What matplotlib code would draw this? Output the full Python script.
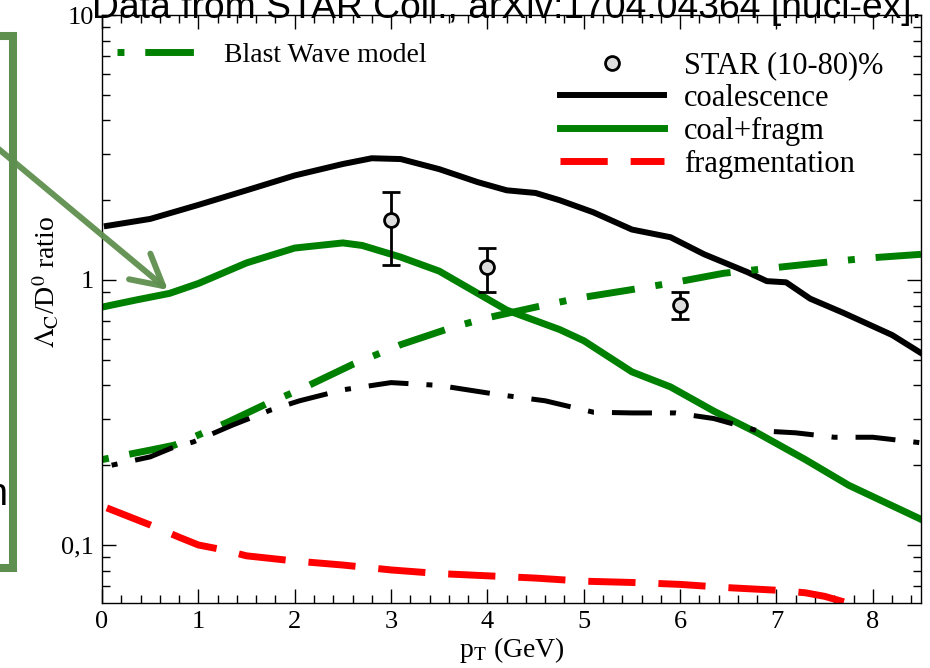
import matplotlib
matplotlib.use("Agg")
import matplotlib.pyplot as plt
from matplotlib.lines import Line2D
from matplotlib.patches import Rectangle, FancyArrowPatch
from matplotlib.ticker import MultipleLocator, LogLocator, NullFormatter

plt.rcParams['font.family'] = ['Liberation Serif', 'DejaVu Serif']
plt.rcParams['mathtext.fontset'] = 'stix'

# coalescence only
pt_coal = [0.05, 0.5, 1.0, 1.5, 2.0, 2.5, 2.8, 3.1, 3.5, 3.9, 4.2, 4.5, 4.75,
           5.1, 5.5, 5.9, 6.25, 6.7, 6.9, 7.1, 7.35, 7.7, 8.2, 8.5]
coal = [1.60, 1.70, 1.92, 2.18, 2.48, 2.74, 2.88, 2.86, 2.62, 2.34, 2.18, 2.13, 2.0,
        1.80, 1.55, 1.45, 1.25, 1.07, 0.99, 0.98, 0.85, 0.75, 0.62, 0.53]

# coalescence + fragmentation
pt_cf = [0.0, 0.35, 0.7, 1.0, 1.5, 2.0, 2.5, 2.7, 3.1, 3.5, 3.9, 4.2, 4.75, 5.0,
         5.5, 5.9, 6.35, 6.8, 7.3, 7.75, 8.5]
coal_frag = [0.79, 0.84, 0.89, 0.97, 1.16, 1.32, 1.38, 1.35, 1.22, 1.08, 0.89, 0.77,
             0.65, 0.59, 0.45, 0.395, 0.32, 0.265, 0.21, 0.168, 0.125]

# fragmentation only
pt_frag = [0.05, 0.5, 0.8, 1.0, 1.25, 1.5, 2.0, 2.5, 3.0, 3.5, 4.0, 4.5, 5.0, 5.5,
           6.0, 6.5, 7.0, 7.3, 7.5, 7.7]
frag = [0.138, 0.119, 0.107, 0.100, 0.096, 0.091, 0.087, 0.084, 0.0805, 0.078,
        0.0765, 0.075, 0.073, 0.0722, 0.071, 0.069, 0.0675, 0.066, 0.064, 0.061]

# blast wave model
pt_bw = [0.0, 0.5, 0.75, 1.0, 1.3, 1.7, 2.05, 2.6, 3.1, 3.65, 4.0, 4.5, 4.95, 5.5,
         5.95, 6.45, 6.95, 7.45, 7.95, 8.5]
blast = [0.21, 0.228, 0.238, 0.26, 0.29, 0.34, 0.385, 0.48, 0.57, 0.665, 0.72, 0.79,
         0.855, 0.92, 0.98, 1.06, 1.11, 1.16, 1.21, 1.25]

# black dash-dot curve
pt_cbw = [0.1, 0.5, 0.72, 0.95, 1.35, 1.75, 2.05, 2.5, 3.0, 3.5, 4.1, 4.6, 5.1, 5.5,
          5.95, 6.35, 6.8, 7.2, 7.6, 8.0, 8.5]
coal_bw = [0.20, 0.215, 0.232, 0.245, 0.283, 0.323, 0.35, 0.385, 0.41, 0.40, 0.37,
           0.35, 0.317, 0.315, 0.315, 0.30, 0.27, 0.265, 0.255, 0.255, 0.243]

# STAR (10-80)% data
star_pt = [3, 4, 6]
star_val = [1.68, 1.12, 0.805]
star_lo = [1.14, 0.90, 0.71]
star_hi = [2.15, 1.32, 0.90]

W, H = 930, 668
fig = plt.figure(figsize=(W / 100, H / 100), dpi=100)
ax = fig.add_axes([102 / W, 1 - 603 / H, 819 / W, 588 / H])

green = '#008000'
ax.plot(pt_coal, coal, color='black', lw=4.3)
ax.plot(pt_cf, coal_frag, color=green, lw=5)
ax.plot(pt_frag, frag, color='red', lw=5, linestyle=(0, (6.8, 3.3)))
ax.plot(pt_bw, blast, color=green, lw=5, linestyle=(10, (7, 3, 1, 3)))
ax.plot(pt_cbw, coal_bw, color='black', lw=3.6, linestyle=(11.6, (8, 3.6, 1.2, 3.6)))

err = [[v - lo for v, lo in zip(star_val, star_lo)],
       [hi - v for v, hi in zip(star_val, star_hi)]]
ax.errorbar(star_pt, star_val, yerr=err, fmt='o', ms=10, mfc='#dddddd', mec='black',
            mew=2, ecolor='black', elinewidth=2, capsize=6.5, capthick=2, zorder=5)

ax.set_yscale('log')
ax.set_xlim(0, 8.5)
ax.set_ylim(0.0604, 10)
ax.set_yticks([0.1, 1, 10])
ax.set_yticklabels(['0,1', '1', '10'])
ax.yaxis.set_minor_locator(LogLocator(base=10, subs=range(2, 10)))
ax.yaxis.set_minor_formatter(NullFormatter())
ax.xaxis.set_major_locator(MultipleLocator(1))
ax.xaxis.set_minor_locator(MultipleLocator(0.2))
ax.tick_params(which='both', direction='in', top=True, right=True, width=1,
               labelsize=19, pad=6)
ax.tick_params(which='major', length=10)
ax.tick_params(which='minor', length=5.5)
for sp in ax.spines.values():
    sp.set_linewidth(1)

ax.set_xlabel(r'p$_{\rm T}$ (GeV)', fontsize=20, labelpad=1)
ax.set_ylabel(r'$\Lambda_{\rm C}$/D$^{0}$ ratio', fontsize=20, va='center')
ax.yaxis.set_label_coords(-0.068, 0.545)

# legends
bw_handle = Line2D([], [], color=green, lw=5, linestyle=(10, (7, 3, 1, 3)))
leg1 = ax.legend([bw_handle], ['Blast Wave model'], loc='center left',
                 bbox_to_anchor=(117 / W, 1 - 55 / H), bbox_transform=fig.transFigure,
                 frameon=False, fontsize=20, handlelength=3.3, handletextpad=0.55,
                 borderpad=0, borderaxespad=0)
ax.add_artist(leg1)

handles = [Line2D([], [], ls='none', marker='o', ms=10, mfc='#dddddd', mec='black', mew=2),
           Line2D([], [], color='black', lw=4.3),
           Line2D([], [], color=green, lw=5),
           Line2D([], [], color='red', lw=5, linestyle=(0, (6.8, 3.3)))]
labels = ['STAR (10-80)%', 'coalescence', 'coal+fragm', 'fragmentation']
ax.legend(handles, labels, loc='center left',
          bbox_to_anchor=(560 / W, 1 - 115 / H), bbox_transform=fig.transFigure,
          frameon=False, fontsize=22, handlelength=3.4, handletextpad=0.65,
          labelspacing=0.12, borderpad=0, borderaxespad=0)

# slide overlays
fig.text(92 / W, 1 - 18 / H, 'Data from STAR Coll., arXiv:1704.04364 [nucl-ex].',
         family='Liberation Sans', fontsize=26.8, ha='left', va='baseline')
fig.text(7 / W, 1 - 505 / H, 'n', family='Liberation Sans', fontsize=27,
         ha='right', va='baseline')

olive = '#5f8f4f'
fig.add_artist(Rectangle((-60 / W, 1 - 568 / H), 73 / W, 532 / H,
                         transform=fig.transFigure, fill=False, ec=olive, lw=5.8))
fig.add_artist(FancyArrowPatch((-5 / W, 1 - 146 / H), (168 / W, 1 - 290 / H),
                               transform=fig.transFigure,
                               arrowstyle='->,head_length=1.1,head_width=0.6',
                               mutation_scale=20, color=olive, lw=4.3,
                               shrinkA=0, shrinkB=0, alpha=0.95))

fig.savefig('out.png', dpi=100)
